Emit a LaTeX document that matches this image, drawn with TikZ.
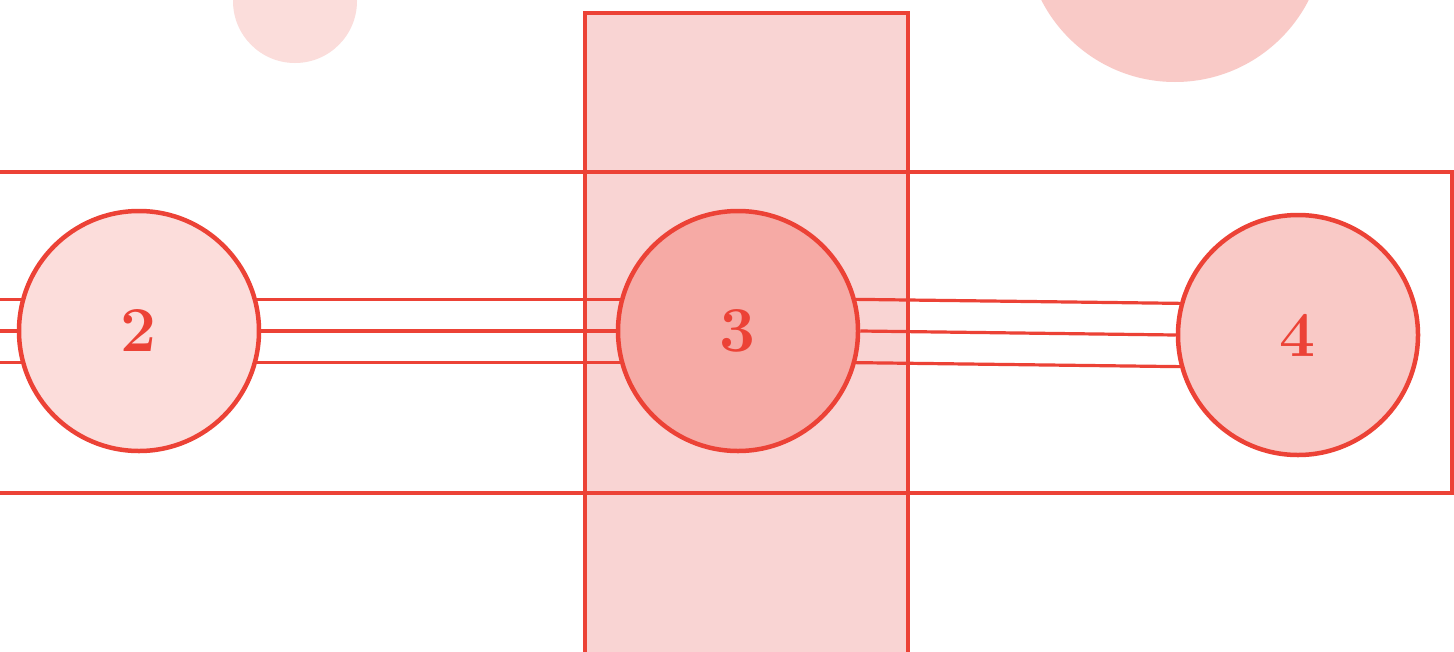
\documentclass[tikz,border=0pt]{standalone}
\usepackage{fontspec}
\usetikzlibrary{positioning}

\definecolor{linered}{HTML}{EC4236}
\definecolor{rectfill}{HTML}{F9D4D3}
\definecolor{twofill}{HTML}{FCDDDB}
\definecolor{threefill}{HTML}{F6AAA5}
\definecolor{fourfill}{HTML}{F9C9C6}
\definecolor{dotone}{HTML}{FBDDDB}
\definecolor{dottwo}{HTML}{F9CAC7}

\begin{document}
\begin{tikzpicture}[
    x=1pt, y=-1pt,
    ring/.style={circle, draw=linered, line width=4.5pt, minimum size=240pt, inner sep=0pt, text=linered, font=\fontsize{64}{64}\selectfont\bfseries},
    rail/.style={draw=linered, line width=3.2pt},
    frame/.style={draw=linered, line width=3.5pt}
]
\useasboundingbox (0,0) rectangle (1454,651);
\fill[white] (0,0) rectangle (1454,651);

% Background dots
\fill[dotone] (295,1) circle (62);
\fill[dottwo] (1175,-68) circle (150);

% Column and band
\fill[rectfill] (585,13) rectangle (908,660);
\draw[frame] (585,660) -- (585,13) -- (908,13) -- (908,660);
\draw[frame] (-5,172) -- (1452,172) -- (1452,493) -- (-5,493);

% Stations
\node[ring, fill=twofill] (two) at (139,331) {2};
\node[ring, fill=threefill, right=354.5pt of two] (three) {3};
\node[ring, fill=fourfill, right=315.5pt of three, yshift=-4pt] (four) {4};

% Rails
\coordinate (edge) at (0,331);
\foreach \a/\b in {15/165, 0/180, -15/195} {
    \draw[rail] (two.\a) -- (three.\b);
    \draw[rail] (three.\a) -- (four.\b);
    \draw[rail] (two.\b) -- (two.\b -| edge);
}

\end{tikzpicture}
\end{document}
